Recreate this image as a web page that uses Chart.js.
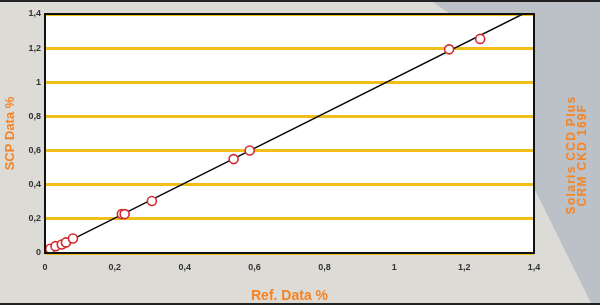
<!DOCTYPE html>
<html>
<head>
<meta charset="utf-8">
<script src="https://cdn.jsdelivr.net/npm/chart.js@4/dist/chart.umd.min.js"></script>
<style>
html,body{margin:0;padding:0;background:#dcdad5;}
#wrap{width:600px;height:305px;position:relative;}
</style>
</head>
<body>
<div id="wrap"><canvas id="c" width="600" height="305"></canvas></div>
<script>
// Data
const refData = [0.005, 0.015, 0.03, 0.048, 0.06, 0.08, 0.22, 0.228, 0.306, 0.54, 0.586, 1.157, 1.246];
const scpData = [0.01, 0.025, 0.04, 0.05, 0.062, 0.085, 0.228, 0.228, 0.305, 0.55, 0.60, 1.193, 1.254];
const fitLineX = [0, 1.368];
const fitLineY = [0, 1.4];
const tickValues = [0, 0.2, 0.4, 0.6, 0.8, 1, 1.2, 1.4];
const xTitle = 'Ref. Data %';
const yTitle = 'SCP Data %';
const sideLabel = ['Solaris CCD Plus', 'CRM CKD 169F'];

const fmt = v => String(Math.round(v * 10) / 10).replace('.', ',');

const bgPlugin = {
  id: 'bg',
  beforeDraw(chart) {
    const ctx = chart.ctx;
    const W = chart.width, H = chart.height;
    ctx.save();
    ctx.fillStyle = '#dddbd6';
    ctx.fillRect(0, 0, W, H);
    // blue-grey side panel
    ctx.fillStyle = '#bcc1c7';
    ctx.beginPath();
    ctx.moveTo(430, 0);
    ctx.lineTo(W, 0);
    ctx.lineTo(W, H);
    ctx.lineTo(592, H);
    ctx.lineTo(535, 190);
    ctx.lineTo(535, 14);
    ctx.lineTo(450, 14);
    ctx.closePath();
    ctx.fill();
    // frame lines
    ctx.fillStyle = '#222';
    ctx.fillRect(0, 0, W, 2);
    ctx.fillRect(0, H - 2, W, 2);
    // plot background
    const a = chart.chartArea;
    ctx.fillStyle = '#ffffff';
    ctx.fillRect(a.left, a.top, a.right - a.left, a.bottom - a.top);
    ctx.restore();
  },
  afterDraw(chart) {
    const ctx = chart.ctx;
    const a = chart.chartArea;
    ctx.save();
    ctx.strokeStyle = '#111';
    ctx.lineWidth = 2;
    ctx.strokeRect(a.left, a.top, a.right - a.left, a.bottom - a.top);
    ctx.translate(577.5, 155);
    ctx.rotate(-Math.PI / 2);
    ctx.fillStyle = '#f58426';
    ctx.font = 'bold 12px "Liberation Sans", Arial, sans-serif';
    try { ctx.letterSpacing = '1.3px'; } catch (e) {}
    ctx.textAlign = 'center';
    ctx.textBaseline = 'middle';
    ctx.fillText(sideLabel[0], 0, -5.5);
    ctx.fillText(sideLabel[1], 0, 5.5);
    ctx.restore();
  }
};

const points = refData.map((x, i) => ({ x: x, y: scpData[i] }));
const line = fitLineX.map((x, i) => ({ x: x, y: fitLineY[i] }));

new Chart(document.getElementById('c'), {
  type: 'scatter',
  data: {
    datasets: [
      {
        data: points,
        pointRadius: 4.5,
        pointBorderWidth: 1.6,
        pointBorderColor: '#d22a30',
        pointBackgroundColor: '#ffffff',
        showLine: false,
        order: 0
      },
      {
        data: line,
        showLine: true,
        borderColor: '#111',
        borderWidth: 1.5,
        pointRadius: 0,
        order: 1
      }
    ]
  },
  options: {
    responsive: false,
    animation: false,
    devicePixelRatio: 1,
    layout: { padding: { top: 14, right: 66, left: 0, bottom: 0 } },
    plugins: { legend: { display: false }, tooltip: { enabled: false } },
    scales: {
      x: {
        type: 'linear', min: 0, max: 1.4,
        afterBuildTicks: s => { s.ticks = tickValues.map(v => ({ value: v })); },
        afterFit: s => { s.height = 52; },
        grid: { display: false, drawTicks: false },
        border: { display: false },
        ticks: {
          callback: v => fmt(v), padding: 9, maxRotation: 0,
          color: '#333', font: { size: 9, weight: 'bold', family: '"Liberation Sans", Arial, sans-serif' }
        },
        title: {
          display: true, text: xTitle, color: '#f58426', padding: { top: 4, bottom: 0 },
          font: { size: 14, weight: 'bold', family: '"Liberation Sans", Arial, sans-serif' }
        }
      },
      y: {
        type: 'linear', min: 0, max: 1.4,
        afterBuildTicks: s => { s.ticks = tickValues.map(v => ({ value: v })); },
        afterFit: s => { s.width = 45; },
        grid: { color: '#f2bf1a', lineWidth: 3, drawTicks: false },
        border: { display: false },
        ticks: {
          callback: v => fmt(v), padding: 4,
          color: '#333', font: { size: 9, weight: 'bold', family: '"Liberation Sans", Arial, sans-serif' }
        },
        title: {
          display: true, text: yTitle, color: '#f58426', padding: { top: 3, bottom: 0 },
          font: { size: 13, weight: 'bold', family: '"Liberation Sans", Arial, sans-serif' }
        }
      }
    }
  },
  plugins: [bgPlugin]
});
</script>
</body>
</html>
